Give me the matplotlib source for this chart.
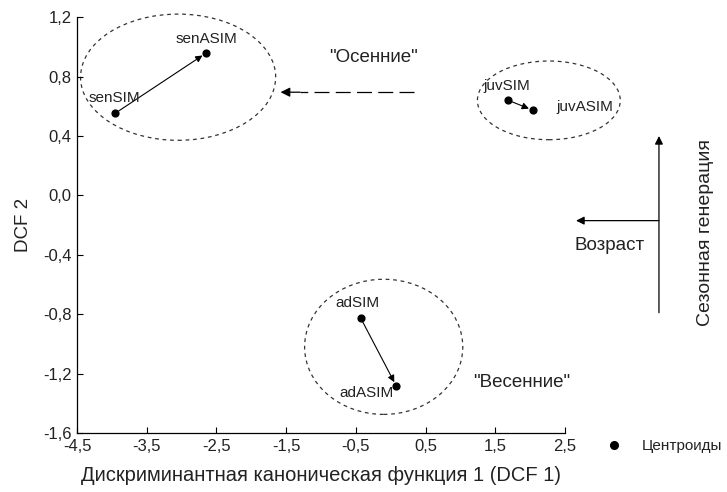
import matplotlib
matplotlib.use('Agg')
import matplotlib.pyplot as plt
from matplotlib.patches import Ellipse
from matplotlib.lines import Line2D

plt.rcParams['font.family'] = ['Liberation Sans', 'DejaVu Sans']

# centroids
names = ['senSIM', 'senASIM', 'juvSIM', 'juvASIM', 'adSIM', 'adASIM']
dcf1 = [-3.95, -2.65, 1.69, 2.04, -0.43, 0.08]
dcf2 = [0.554, 0.958, 0.64, 0.574, -0.826, -1.283]

# groups: (center x, center y, width, height)
groups = {
    'sen': (-3.05, 0.796, 2.8, 0.85),
    'juv': (2.27, 0.64, 2.05, 0.53),
    'ad': (-0.10, -1.02, 2.27, 0.91),
}

xticks = [-4.5, -3.5, -2.5, -1.5, -0.5, 0.5, 1.5, 2.5]
yticks = [-1.6, -1.2, -0.8, -0.4, 0.0, 0.4, 0.8, 1.2]

TXT = '#222222'


def fmt(v):
    return f'{v:.1f}'.replace('.', ',')


fig = plt.figure(figsize=(7.27, 4.92), dpi=100)
ax = fig.add_axes([0.106, 0.12, 0.671, 0.845])

ax.scatter(dcf1, dcf2, s=24, c='black', zorder=3)

# SIM -> ASIM arrows
for i in range(0, len(names), 2):
    ax.annotate('', xy=(dcf1[i + 1], dcf2[i + 1]), xytext=(dcf1[i], dcf2[i]),
                arrowprops=dict(arrowstyle='-|>', color='black', lw=0.8,
                                mutation_scale=10, shrinkA=3, shrinkB=3))

# point labels
offsets = {
    'senSIM': (-0.02, 0.105, 'center'),
    'senASIM': (0.0, 0.095, 'center'),
    'juvSIM': (-0.02, 0.095, 'center'),
    'juvASIM': (0.345, 0.02, 'left'),
    'adSIM': (-0.04, 0.10, 'center'),
    'adASIM': (-0.04, -0.047, 'right'),
}
for n, x, y in zip(names, dcf1, dcf2):
    dx, dy, ha = offsets[n]
    ax.text(x + dx, y + dy, n, ha=ha, va='center', fontsize=11, color=TXT)

for cx, cy, w, h in groups.values():
    ax.add_patch(Ellipse((cx, cy), w, h, fill=False, ls=(0, (3, 3)),
                         lw=0.9, edgecolor='#333333', clip_on=False))

# "autumn" label and dashed arrow
ax.text(-0.24, 0.93, '"Осенние"', ha='center', va='center', fontsize=13.5,
        color=TXT)
ax.plot([0.33, -1.3], [0.695, 0.695], color='black', lw=0.9,
        ls=(0, (12, 5)))
ax.annotate('', xy=(-1.58, 0.695), xytext=(-1.3, 0.695),
            arrowprops=dict(arrowstyle='-|>', color='black', lw=0.9,
                            mutation_scale=14, shrinkA=0, shrinkB=0))
ax.text(1.88, -1.263, '"Весенние"', ha='center', va='center', fontsize=13.5,
        color=TXT)

# axis of interpretation (outside the plotting area)
ax.annotate('', xy=(3.85, 0.4), xytext=(3.85, -0.79),
            arrowprops=dict(arrowstyle='-|>', color='black', lw=0.9,
                            mutation_scale=12, shrinkA=0, shrinkB=0),
            annotation_clip=False)
ax.annotate('', xy=(2.66, -0.17), xytext=(3.85, -0.17),
            arrowprops=dict(arrowstyle='-|>', color='black', lw=0.9,
                            mutation_scale=12, shrinkA=0, shrinkB=0),
            annotation_clip=False)
ax.text(3.14, -0.34, 'Возраст', ha='center', va='center', fontsize=13.5,
        clip_on=False, color=TXT)
ax.text(4.52, -0.25, 'Сезонная генерация', ha='center', va='center',
        fontsize=14, rotation=90, clip_on=False, color=TXT)

ax.set_xlim(-4.5, 2.5)
ax.set_ylim(-1.6, 1.2)
ax.set_xticks(xticks)
ax.set_xticklabels([fmt(v) for v in xticks])
ax.set_yticks(yticks)
ax.set_yticklabels([fmt(v) for v in yticks])
ax.tick_params(direction='in', length=4, width=0.8, labelsize=12, pad=4,
               labelcolor=TXT)
ax.spines['top'].set_visible(False)
ax.spines['right'].set_visible(False)
for s in ('left', 'bottom'):
    ax.spines[s].set_linewidth(0.9)

ax.set_xlabel('Дискриминантная каноническая функция 1 (DCF 1)', fontsize=14.5,
              labelpad=9, color=TXT)
ax.set_ylabel('DCF 2', fontsize=13.5, labelpad=8, color=TXT)

handle = Line2D([], [], marker='o', ls='none', color='black', markersize=5.5)
fig.legend([handle], ['Центроиды'], loc='center left', frameon=False,
           bbox_to_anchor=(0.804, 0.093), fontsize=11, handletextpad=0.85,
           labelcolor=TXT)

fig.savefig('out.png', dpi=100)
